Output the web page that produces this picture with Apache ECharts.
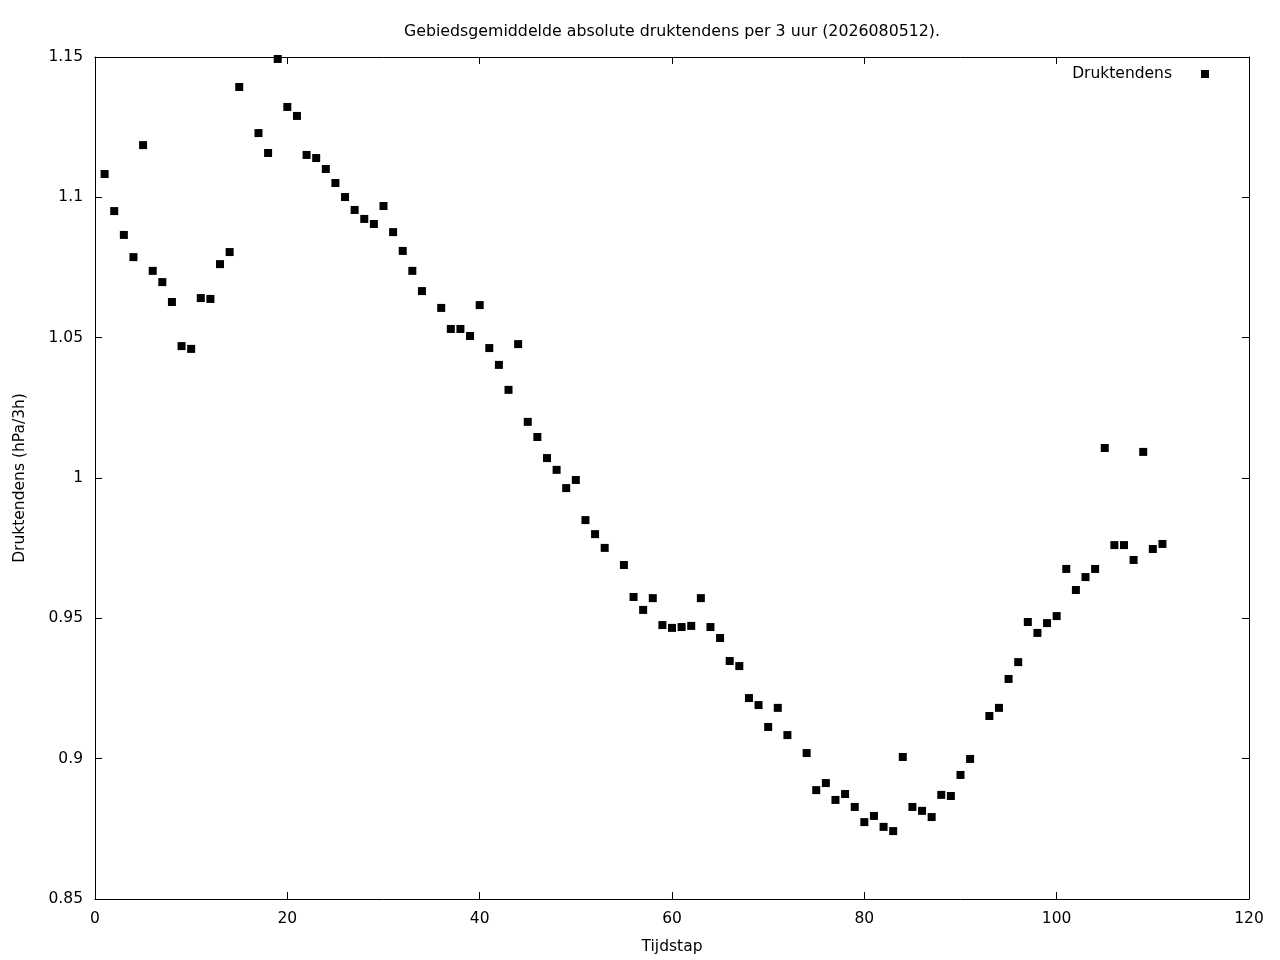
<!DOCTYPE html>
<html>
<head>
<meta charset="utf-8">
<script src="https://cdn.jsdelivr.net/npm/echarts@6/dist/echarts.min.js"></script>
<style>
  html, body { margin: 0; padding: 0; background: #fff; }
  #main { width: 1280px; height: 960px; }
</style>
</head>
<body>
<div id="main"></div>
<script>
var titleText = 'Gebiedsgemiddelde absolute druktendens per 3 uur (2026080512).';
var seriesName = 'Druktendens';
var xTicks = [0, 20, 40, 60, 80, 100, 120];
var yTicks = [0.85, 0.9, 0.95, 1, 1.05, 1.1, 1.15];

// tijdstappen (16, 35, 54, 73 en 92 ontbreken)
var steps = [1, 2, 3, 4, 5, 6, 7, 8, 9, 10, 11, 12, 13, 14, 15, 17, 18, 19, 20,
  21, 22, 23, 24, 25, 26, 27, 28, 29, 30, 31, 32, 33, 34, 36, 37, 38, 39, 40,
  41, 42, 43, 44, 45, 46, 47, 48, 49, 50, 51, 52, 53, 55, 56, 57, 58, 59, 60,
  61, 62, 63, 64, 65, 66, 67, 68, 69, 70, 71, 72, 74, 75, 76, 77, 78, 79, 80,
  81, 82, 83, 84, 85, 86, 87, 88, 89, 90, 91, 93, 94, 95, 96, 97, 98, 99, 100,
  101, 102, 103, 104, 105, 106, 107, 108, 109, 110, 111];

var tendency = [1.1083, 1.0951, 1.0866, 1.0787, 1.1186, 1.0738, 1.0698, 1.0627, 1.0470, 1.0460,
  1.0641, 1.0638, 1.0762, 1.0805, 1.1393, 1.1229, 1.1158, 1.1493, 1.1322,
  1.1290, 1.1151, 1.1140, 1.1101, 1.1051, 1.1001, 1.0955, 1.0923, 1.0905, 1.0969,
  1.0876, 1.0809, 1.0738, 1.0666, 1.0606, 1.0531, 1.0531, 1.0506, 1.0616,
  1.0463, 1.0403, 1.0314, 1.0477, 1.0200, 1.0146, 1.0071, 1.0029, 0.9964, 0.9993,
  0.9850, 0.9800, 0.9751, 0.9690, 0.9576, 0.9530, 0.9572, 0.9476, 0.9466,
  0.9469, 0.9473, 0.9572, 0.9469, 0.9430, 0.9348, 0.9330, 0.9216, 0.9191, 0.9113,
  0.9181, 0.9084, 0.9020, 0.8888, 0.8913, 0.8853, 0.8874, 0.8828, 0.8774,
  0.8796, 0.8757, 0.8742, 0.9006, 0.8828, 0.8814, 0.8792, 0.8871, 0.8867, 0.8942,
  0.8999, 0.9152, 0.9181, 0.9284, 0.9344, 0.9487, 0.9448, 0.9483, 0.9508,
  0.9676, 0.9601, 0.9647, 0.9676, 1.0107, 0.9761, 0.9761, 0.9708, 1.0093, 0.9747,
  0.9765];

var points = steps.map(function (s, i) { return [s, tendency[i]]; });

var font = 'DejaVu Sans';
var fs = 15.5;
var myChart = echarts.init(document.getElementById('main'));

function fmtY(v) {
  var hit = yTicks.filter(function (t) { return Math.abs(t - v) < 1e-9; });
  return hit.length ? String(hit[0]) : '';
}

var tickStyle = { show: true, inside: true, length: 7, lineStyle: { color: '#000', width: 1 } };
var lineStyle = { show: true, onZero: false, lineStyle: { color: '#000', width: 1 } };

var option = {
  backgroundColor: '#fff',
  animation: false,
  title: {
    text: titleText,
    left: 667,
    textAlign: 'center',
    top: 19,
    textStyle: { fontFamily: font, fontSize: 15.8, fontWeight: 'normal', color: '#000' }
  },
  legend: {
    data: [{ name: seriesName, icon: 'rect' }],
    right: 71,
    top: 66,
    padding: 0,
    align: 'right',
    itemWidth: 8,
    itemHeight: 8,
    textStyle: { fontFamily: font, fontSize: fs, color: '#000', padding: [0, 24, 0, 0] }
  },
  grid: { left: 95, right: 31, top: 57, bottom: 61 },
  xAxis: [{
    type: 'value',
    min: 0,
    max: 120,
    interval: 20,
    name: 'Tijdstap',
    nameLocation: 'middle',
    nameGap: 40,
    nameTextStyle: { fontFamily: font, fontSize: fs, color: '#000' },
    axisLine: lineStyle,
    axisTick: tickStyle,
    axisLabel: { fontFamily: font, fontSize: fs, color: '#000', margin: 12 },
    splitLine: { show: false }
  }, {
    type: 'value',
    position: 'top',
    min: 0,
    max: 120,
    interval: 20,
    axisLine: lineStyle,
    axisTick: tickStyle,
    axisLabel: { show: false },
    splitLine: { show: false }
  }],
  yAxis: [{
    type: 'value',
    min: 0.85,
    max: 1.15,
    interval: 0.05,
    name: 'Druktendens (hPa/3h)',
    nameLocation: 'middle',
    nameGap: 67,
    nameTextStyle: { fontFamily: font, fontSize: fs, color: '#000' },
    axisLine: lineStyle,
    axisTick: tickStyle,
    axisLabel: { fontFamily: font, fontSize: fs, color: '#000', margin: 12, formatter: fmtY },
    splitLine: { show: false }
  }, {
    type: 'value',
    position: 'right',
    min: 0.85,
    max: 1.15,
    interval: 0.05,
    axisLine: lineStyle,
    axisTick: tickStyle,
    axisLabel: { show: false },
    splitLine: { show: false }
  }],
  series: [{
    name: seriesName,
    type: 'scatter',
    xAxisIndex: 0,
    yAxisIndex: 0,
    symbol: 'rect',
    symbolSize: 8,
    itemStyle: { color: '#000', opacity: 1 },
    data: points
  }]
};

myChart.setOption(option);
</script>
</body>
</html>
